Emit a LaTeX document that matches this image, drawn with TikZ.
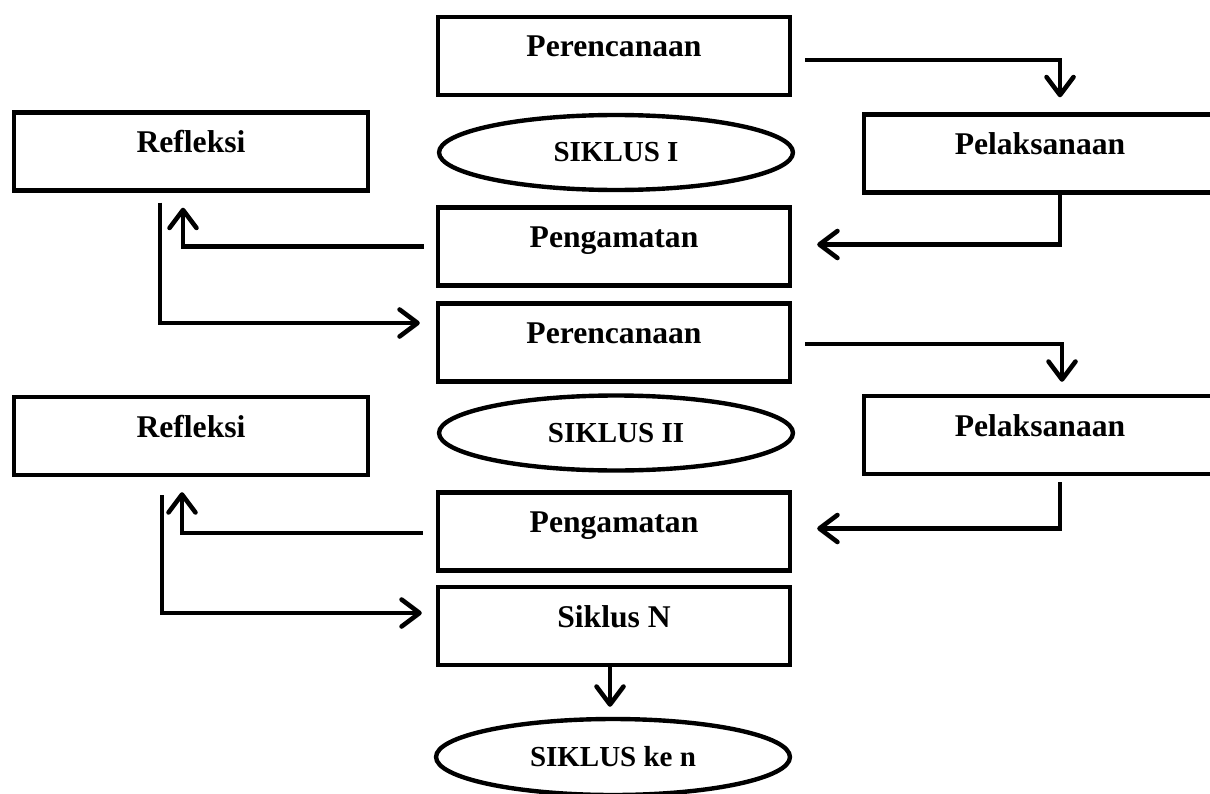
\documentclass[tikz,border=0pt]{standalone}
\usepackage{fontspec}
\setmainfont{Liberation Serif}
\usetikzlibrary{shapes,arrows.meta,calc}

\begin{document}
\begin{tikzpicture}[x=0.02cm,y=-0.02cm,
    kotak/.style={draw,line width=2.5pt,rectangle,minimum width=7.04cm,minimum height=1.56cm,
      inner sep=0pt,text height=0.42cm,text depth=0.38cm,font=\fontsize{18}{20}\selectfont\bfseries},
    siklus/.style={draw,line width=2.5pt,ellipse,minimum width=7.08cm,minimum height=1.5cm,
      inner sep=0pt,font=\fontsize{16.5}{18}\selectfont\bfseries},
    alur/.style={line width=2.6pt,-{Straight Barb[length=0.36cm,width=0.54cm,round]}}]
        \useasboundingbox (0,0) rectangle (1210,794);
        \clip (0,0) rectangle (1210,794);
        \fill[white] (0,0) rectangle (1210,794);

        \node[kotak] (P1) at (614,56) {Perencanaan};
        \node[kotak,minimum width=7.08cm] (R1) at (191,151.5) {Refleksi};
        \node[siklus] (S1) at (616,152.5) {SIKLUS I};
        \node[kotak] (L1) at (1040,153.5) {Pelaksanaan};
        \node[kotak] (A1) at (614,246.5) {Pengamatan};

        \node[kotak] (P2) at (614,342.5) {Perencanaan};
        \node[kotak,minimum width=7.08cm] (R2) at (191,436) {Refleksi};
        \node[siklus] (S2) at (616,433) {SIKLUS II};
        \node[kotak] (L2) at (1040,435) {Pelaksanaan};
        \node[kotak] (A2) at (614,531.5) {Pengamatan};

        \node[kotak] (N) at (614,626) {Siklus N};
        \node[siklus,minimum height=1.52cm] (Sn) at (613,757) {SIKLUS ke n};

        \draw[alur] ($(P1.east)+(13,4)$) -| ($(L1.north)+(20,-15)$);
        \draw[alur] ($(L1.south)+(20,0)$) |- ($(A1.east)+(25,-2)$);
        \draw[alur] ($(A1.west)+(-12,0)$) -| ($(R1.south)+(-8,15)$);
        \draw[alur] ($(R1.south)+(-31,10)$) |- ($(P2.west)+(-16,-19.5)$);

        \draw[alur] ($(P2.east)+(13,1.5)$) -| ($(L2.north)+(22,-12)$);
        \draw[alur] ($(L2.south)+(20,6)$) |- ($(A2.east)+(25,-3)$);
        \draw[alur] ($(A2.west)+(-13,1.5)$) -| ($(R2.south)+(-9,15)$);
        \draw[alur] ($(R2.south)+(-29,18)$) |- ($(N.west)+(-14,-13)$);

        \draw[alur] ($(N.south)+(-4,0)$) -- ($(Sn.north)+(-3,-10)$);
      \end{tikzpicture}
\end{document}
